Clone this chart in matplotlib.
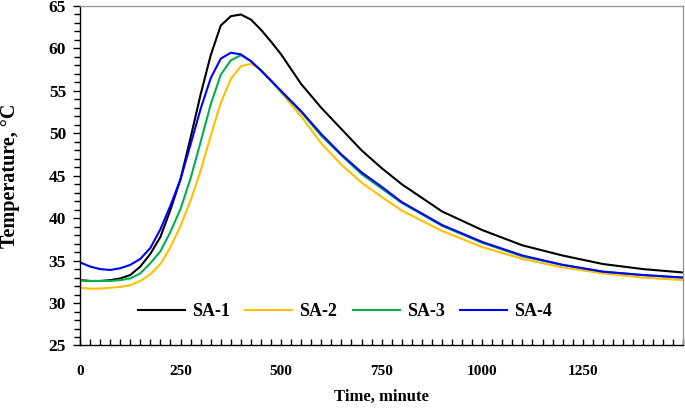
import matplotlib
matplotlib.use("Agg")
import matplotlib.pyplot as plt
from matplotlib.ticker import MultipleLocator

time_min = [0, 25, 50, 75, 100, 125, 150, 175, 200, 225, 250, 275, 300, 325, 350,
            375, 400, 425, 450, 475, 500, 550, 600, 650, 700, 750, 800, 900, 1000,
            1100, 1200, 1300, 1400, 1500]

sa1 = [32.7, 32.6, 32.6, 32.7, 32.9, 33.3, 34.3, 35.8, 37.8, 41.0, 44.6, 49.5, 54.6,
       59.2, 62.7, 63.8, 64.0, 63.4, 62.2, 60.8, 59.3, 55.8, 53.0, 50.5, 48.0, 45.9,
       44.0, 40.8, 38.6, 36.8, 35.6, 34.6, 34.0, 33.6]
sa2 = [31.8, 31.7, 31.7, 31.8, 31.9, 32.1, 32.6, 33.4, 34.6, 36.6, 39.1, 42.1, 45.6,
       49.7, 53.6, 56.4, 57.9, 58.2, 57.5, 56.2, 54.8, 52.0, 48.8, 46.3, 44.2, 42.5,
       40.9, 38.5, 36.6, 35.2, 34.2, 33.5, 33.0, 32.7]
sa3 = [32.7, 32.6, 32.6, 32.6, 32.7, 32.9, 33.5, 34.7, 36.1, 38.4, 41.1, 44.7, 49.0,
       53.4, 56.9, 58.6, 59.2, 58.5, 57.4, 56.2, 54.9, 52.5, 49.7, 47.4, 45.2, 43.5,
       41.8, 39.1, 37.1, 35.5, 34.5, 33.7, 33.3, 33.0]
sa4 = [34.8, 34.3, 34.0, 33.9, 34.1, 34.5, 35.2, 36.5, 38.7, 41.5, 44.6, 48.7, 52.9,
       56.5, 58.8, 59.5, 59.3, 58.5, 57.4, 56.2, 55.0, 52.6, 49.9, 47.5, 45.4, 43.7,
       41.9, 39.2, 37.2, 35.6, 34.5, 33.7, 33.3, 33.0]

series = [("SA-1", sa1, "#000000"), ("SA-2", sa2, "#FFC000"),
          ("SA-3", sa3, "#00B050"), ("SA-4", sa4, "#0000FF")]

plt.rcParams['font.family'] = ['Liberation Serif', 'DejaVu Serif']
plt.rcParams['font.weight'] = 'bold'

fig = plt.figure(figsize=(6.85, 4.09), dpi=100)
ax = fig.add_axes([0.1168, 0.1553, 0.8807, 0.83])

for name, vals, col in series:
    ax.plot(time_min, vals, color=col, lw=1.5, label=name, solid_joinstyle='round')

ax.set_xlim(0, 1500)
ax.set_ylim(25, 65)
ax.xaxis.set_major_locator(MultipleLocator(250))
ax.xaxis.set_minor_locator(MultipleLocator(25))
ax.yaxis.set_major_locator(MultipleLocator(5))
ax.yaxis.set_minor_locator(MultipleLocator(1))
ax.set_xticks([0, 250, 500, 750, 1000, 1250])

ax.tick_params(axis='x', which='both', direction='in', length=4, width=1, pad=14,
               labelsize=11)
ax.tick_params(axis='y', which='major', direction='out', length=5, width=1, pad=5,
               labelsize=12.5)
ax.tick_params(axis='y', which='minor', direction='out', length=4, width=1)
for lab in ax.get_xticklabels() + ax.get_yticklabels():
    lab.set_fontweight('bold')

for s in ['top', 'right']:
    ax.spines[s].set_color('#999999')
    ax.spines[s].set_linewidth(1)
for s in ['left', 'bottom']:
    ax.spines[s].set_color('#000000')
    ax.spines[s].set_linewidth(1)

ax.set_xlabel("Time, minute", fontsize=12, fontweight='bold')
ax.set_ylabel("Temperature, \u00b0C", fontsize=14.5, fontweight='bold')
ax.xaxis.set_label_coords(0.5, -0.1517)
ax.yaxis.set_label_coords(-0.116, 0.5)
ax.xaxis.label.set_va('center')
ax.yaxis.label.set_va('center')

leg = ax.legend(loc='center left', bbox_to_anchor=(0.0961, 0.0996), ncol=4,
                frameon=False, prop={'weight': 'bold', 'size': 13},
                handlelength=2.6, columnspacing=0.85, handletextpad=0.4,
                borderpad=0, borderaxespad=0)

fig.savefig("out.png", dpi=100)
